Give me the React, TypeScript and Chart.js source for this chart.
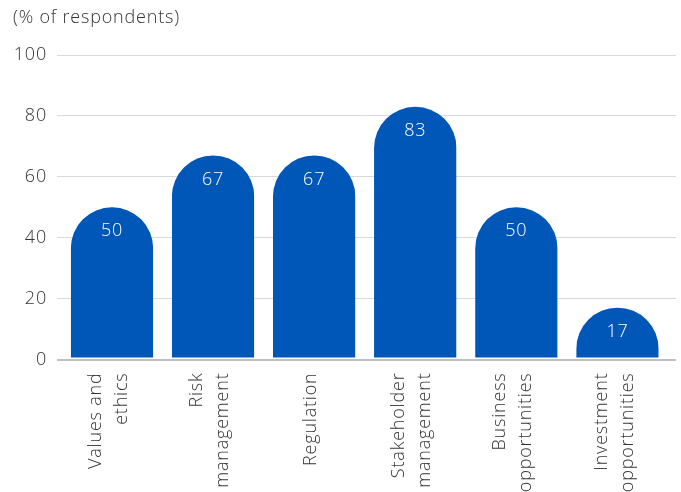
import React, { useEffect, useRef } from 'react';
import { Chart, registerables } from 'chart.js';

Chart.register(...registerables);

const categories: string[][] = [
  ['Values and', 'ethics'],
  ['Risk', 'management'],
  ['Regulation'],
  ['Stakeholder', 'management'],
  ['Business', 'opportunities'],
  ['Investment', 'opportunities'],
];
const values: number[] = [50, 67, 67, 83, 50, 17];
const yTickValues: number[] = [0, 20, 40, 60, 80, 100];
const axisTitle = '(% of respondents)';

const BAR_COLOR = '#0057B8';
const TEXT_COLOR = '#333333';
const FONT_FAMILY = '"Open Sans", sans-serif';
const FONT_WEIGHT = '300';
const FONT_SIZE = 18;
const LETTER_SPACING = '0.8px';

const spacing = {
  id: 'spacing',
  beforeUpdate(chart: any) {
    (chart.ctx as any).letterSpacing = LETTER_SPACING;
  },
  beforeDraw(chart: any) {
    (chart.ctx as any).letterSpacing = LETTER_SPACING;
  },
};

const domeBars = {
  id: 'domeBars',
  afterDatasetsDraw(chart: any) {
    const ctx = chart.ctx as CanvasRenderingContext2D;
    const meta = chart.getDatasetMeta(0);
    const area = chart.chartArea;
    meta.data.forEach((el: any, i: number) => {
      const { x, y, base, width } = el.getProps(['x', 'y', 'base', 'width'], true);
      const r = width / 2;
      const cy = Math.min(y + r, base - 4);
      ctx.save();
      ctx.beginPath();
      ctx.rect(x - r, area.top - r, width, base - 1 - (area.top - r));
      ctx.clip();
      ctx.beginPath();
      ctx.moveTo(x - r, base + 2);
      ctx.lineTo(x - r, cy);
      ctx.arc(x, cy, r, Math.PI, 0);
      ctx.lineTo(x + r, base + 2);
      ctx.closePath();
      ctx.fillStyle = BAR_COLOR;
      ctx.fill();
      ctx.restore();
      ctx.save();
      ctx.fillStyle = '#ffffff';
      ctx.font = `${FONT_WEIGHT} ${FONT_SIZE}px ${FONT_FAMILY}`;
      ctx.textAlign = 'center';
      ctx.textBaseline = 'middle';
      ctx.fillText(String(values[i]), x, cy - r + 24);
      ctx.restore();
    });
  },
};

const xLabels = {
  id: 'xLabels',
  afterDraw(chart: any) {
    const ctx = chart.ctx as CanvasRenderingContext2D;
    const sx = chart.scales.x;
    const lh = 26;
    ctx.save();
    ctx.font = `${FONT_WEIGHT} ${FONT_SIZE}px ${FONT_FAMILY}`;
    ctx.fillStyle = TEXT_COLOR;
    ctx.textAlign = 'right';
    ctx.textBaseline = 'middle';
    categories.forEach((lines, i) => {
      const px = sx.getPixelForTick(i);
      ctx.save();
      ctx.translate(px, sx.top + 13);
      ctx.rotate(-Math.PI / 2);
      lines.forEach((t, j) => {
        ctx.fillText(t, 0, (j - (lines.length - 1) / 2) * lh - 3);
      });
      ctx.restore();
    });
    ctx.restore();
  },
};

export default function App() {
  const ref = useRef<HTMLCanvasElement | null>(null);
  useEffect(() => {
    if (!ref.current) return;
    const font = { family: FONT_FAMILY, size: FONT_SIZE, weight: FONT_WEIGHT as any };
    const chart = new Chart(ref.current, {
      type: 'bar',
      data: {
        labels: categories.map((c) => c.join(' ')),
        datasets: [
          {
            data: values,
            backgroundColor: 'rgba(0,0,0,0)',
            borderWidth: 0,
            barPercentage: 0.816,
            categoryPercentage: 1,
          },
        ],
      },
      options: {
        responsive: false,
        animation: false,
        devicePixelRatio: 1,
        layout: { padding: { left: 13, right: 5, top: 0, bottom: 0 } },
        plugins: {
          legend: { display: false },
          tooltip: { enabled: false },
          title: {
            display: true,
            text: axisTitle,
            align: 'start',
            color: TEXT_COLOR,
            font,
            padding: { top: 7, bottom: 26.4 },
          },
        },
        scales: {
          x: {
            type: 'category',
            offset: true,
            grid: { display: false },
            border: { display: false },
            ticks: { display: false },
            afterBuildTicks: (s: any) => {
              s._startValue = -0.544;
              s._valueRange = 6.123;
            },
            afterFit: (s: any) => {
              s.height = 132.5;
            },
          },
          y: {
            min: 0,
            max: 100,
            afterBuildTicks: (s: any) => {
              s.ticks = yTickValues.map((v) => ({ value: v }));
            },
            ticks: { color: TEXT_COLOR, font, padding: 10 },
            grid: {
              color: (c: any) => (c.tick && c.tick.value === 0 ? '#bfbfbf' : '#d9d9d9'),
              lineWidth: (c: any) => (c.tick && c.tick.value === 0 ? 2 : 1),
              drawTicks: false,
            },
            border: { display: false },
            afterFit: (s: any) => {
              s.width = 44;
            },
          },
        },
      },
      plugins: [spacing, domeBars, xLabels],
    });
    return () => chart.destroy();
  }, []);
  return (
    <div style={{ position: 'fixed', left: 0, top: 0, width: 681, height: 492, background: '#fff' }}>
      <canvas ref={ref} width={681} height={492} style={{ display: 'block' }} />
    </div>
  );
}
